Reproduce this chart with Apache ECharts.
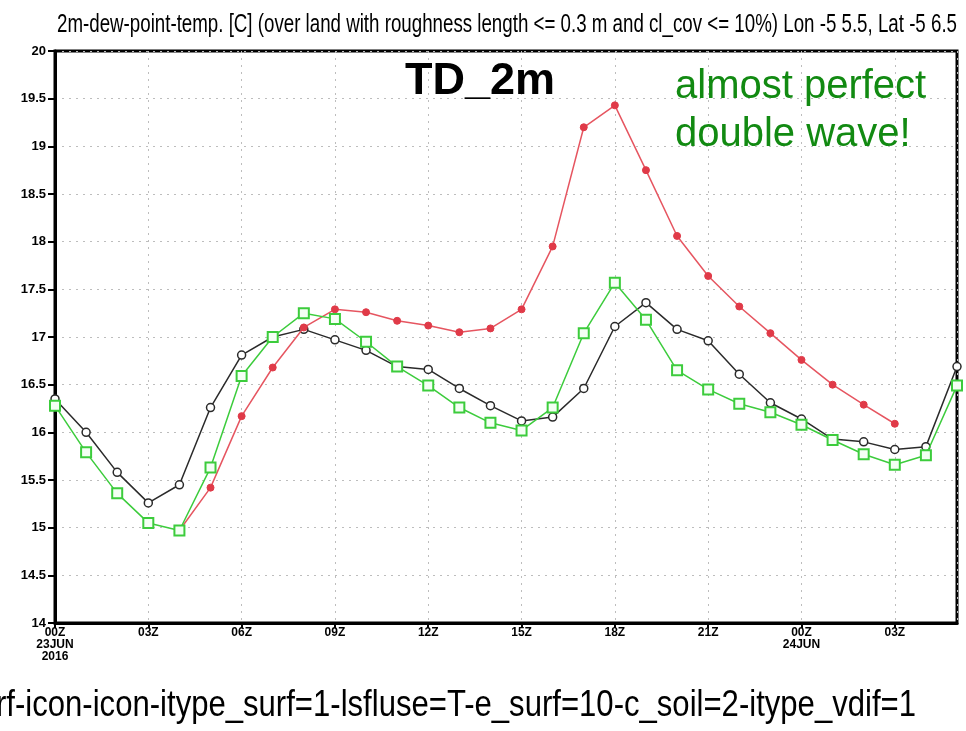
<!DOCTYPE html>
<html>
<head>
<meta charset="utf-8">
<script src="https://cdn.jsdelivr.net/npm/echarts@6/dist/echarts.min.js"></script>
<style>html,body{margin:0;padding:0;background:#fff;}#c{width:966px;height:731px;}</style>
</head>
<body>
<div id="c"></div>
<script>
const hours = [0,1,2,3,4,5,6,7,8,9,10,11,12,13,14,15,16,17,18,19,20,21,22,23,24,25,26,27,28,29];
const blackSeries = [16.35,16.00,15.58,15.26,15.45,16.26,16.81,17.00,17.08,16.97,16.86,16.69,16.66,16.46,16.28,16.12,16.16,16.46,17.11,17.36,17.08,16.96,16.61,16.31,16.14,15.93,15.90,15.82,15.85,16.69];
const greenSeries = [16.28,15.79,15.36,15.05,14.97,15.63,16.59,17.00,17.25,17.19,16.95,16.69,16.49,16.26,16.10,16.02,16.26,17.04,17.57,17.18,16.65,16.45,16.30,16.21,16.08,15.92,15.77,15.66,15.76,16.49];
const redSeries = [null,null,null,null,14.97,15.42,16.17,16.68,17.10,17.29,17.26,17.17,17.12,17.05,17.09,17.29,17.95,19.20,19.43,18.75,18.06,17.64,17.32,17.04,16.76,16.50,16.29,16.09,null,null];
const tickHours = [0,3,6,9,12,15,18,21,24,27];
const tickLabels = ['00Z\n23JUN\n2016','03Z','06Z','09Z','12Z','15Z','18Z','21Z','00Z\n24JUN','03Z'];
const titleText = '2m-dew-point-temp. [C] (over land with roughness length <= 0.3 m and cl_cov <= 10%) Lon -5 5.5, Lat -5 6.5';
const bottomText = 'rf-icon-icon-itype_surf=1-lsfluse=T-e_surf=10-c_soil=2-itype_vdif=1';

function pairs(arr){ return hours.map((h,i)=>[h, arr[i]]); }
const sans = '"Liberation Sans",Arial,sans-serif';
const mctx = document.createElement('canvas').getContext('2d');
function fitScale(text, font, target){ mctx.font = font; return target / mctx.measureText(text).width; }
const titleFont = '25px ' + sans;
const bottomFont = '36px ' + sans;
const titleScale = fitScale(titleText, titleFont, 900);
const bottomScale = fitScale(bottomText, bottomFont, 920);
const gridLine = {show: true, lineStyle: {color: '#bdbdbd', type: [2, 5], width: 1}};

const chart = echarts.init(document.getElementById('c'));
chart.setOption({
  animation: false,
  backgroundColor: '#fff',
  grid: {left: 55, right: 9, top: 51, bottom: 108, show: true, borderColor: '#000', borderWidth: 3, backgroundColor: 'transparent'},
  xAxis: {
    type: 'value', min: 0, max: 29, interval: 3,
    axisLine: {show: true, lineStyle: {color: '#000', width: 3}},
    axisTick: {show: true, length: 5, lineStyle: {color: '#000', width: 2}},
    splitLine: gridLine,
    axisLabel: {
      color: '#000', fontFamily: sans, fontWeight: 'bold', fontSize: 12, lineHeight: 12, margin: 4,
      showMaxLabel: false,
      formatter: function(v){ const k = tickHours.indexOf(v); return k >= 0 ? tickLabels[k] : ''; }
    }
  },
  yAxis: {
    type: 'value', min: 14, max: 20, interval: 0.5,
    axisLine: {show: true, lineStyle: {color: '#000', width: 3}},
    axisTick: {show: true, length: 7, lineStyle: {color: '#000', width: 2}},
    splitLine: gridLine,
    axisLabel: {color: '#000', fontFamily: sans, fontWeight: 'bold', fontSize: 13, margin: 9}
  },
  series: [
    {type: 'line', data: pairs(blackSeries), clip: false, symbol: 'circle', symbolSize: 8,
     lineStyle: {color: '#2a2a2a', width: 1.5},
     itemStyle: {color: '#fff', borderColor: '#2a2a2a', borderWidth: 1.5}, z: 2},
    {type: 'line', data: pairs(redSeries), clip: false, connectNulls: false, symbol: 'circle', symbolSize: 7,
     lineStyle: {color: '#e65560', width: 1.5},
     itemStyle: {color: '#e03a48', borderColor: '#e03a48', borderWidth: 1}, z: 3},
    {type: 'line', data: pairs(greenSeries), clip: false, symbol: 'rect', symbolSize: 10,
     lineStyle: {color: '#3ccc3c', width: 1.5},
     itemStyle: {color: '#f4fff4', borderColor: '#3ccc3c', borderWidth: 2}, z: 4}
  ],
  graphic: [
    {type: 'text', x: 507, y: 25, scaleX: titleScale, style: {text: titleText, font: titleFont, fill: '#000', align: 'center', verticalAlign: 'middle'}},
    {type: 'text', x: -4, y: 706, scaleX: bottomScale, style: {text: bottomText, font: bottomFont, fill: '#000', align: 'left', verticalAlign: 'middle'}},
    {type: 'text', x: 405, y: 82, style: {text: 'TD_2m', font: 'bold 45px ' + sans, fill: '#000', align: 'left', verticalAlign: 'middle'}, z: 10},
    {type: 'text', x: 675, y: 63, style: {text: 'almost perfect\ndouble wave!', font: '40px ' + sans, lineHeight: 48, fill: '#128a12', align: 'left', verticalAlign: 'top'}, z: 10}
  ]
});
</script>
</body>
</html>
